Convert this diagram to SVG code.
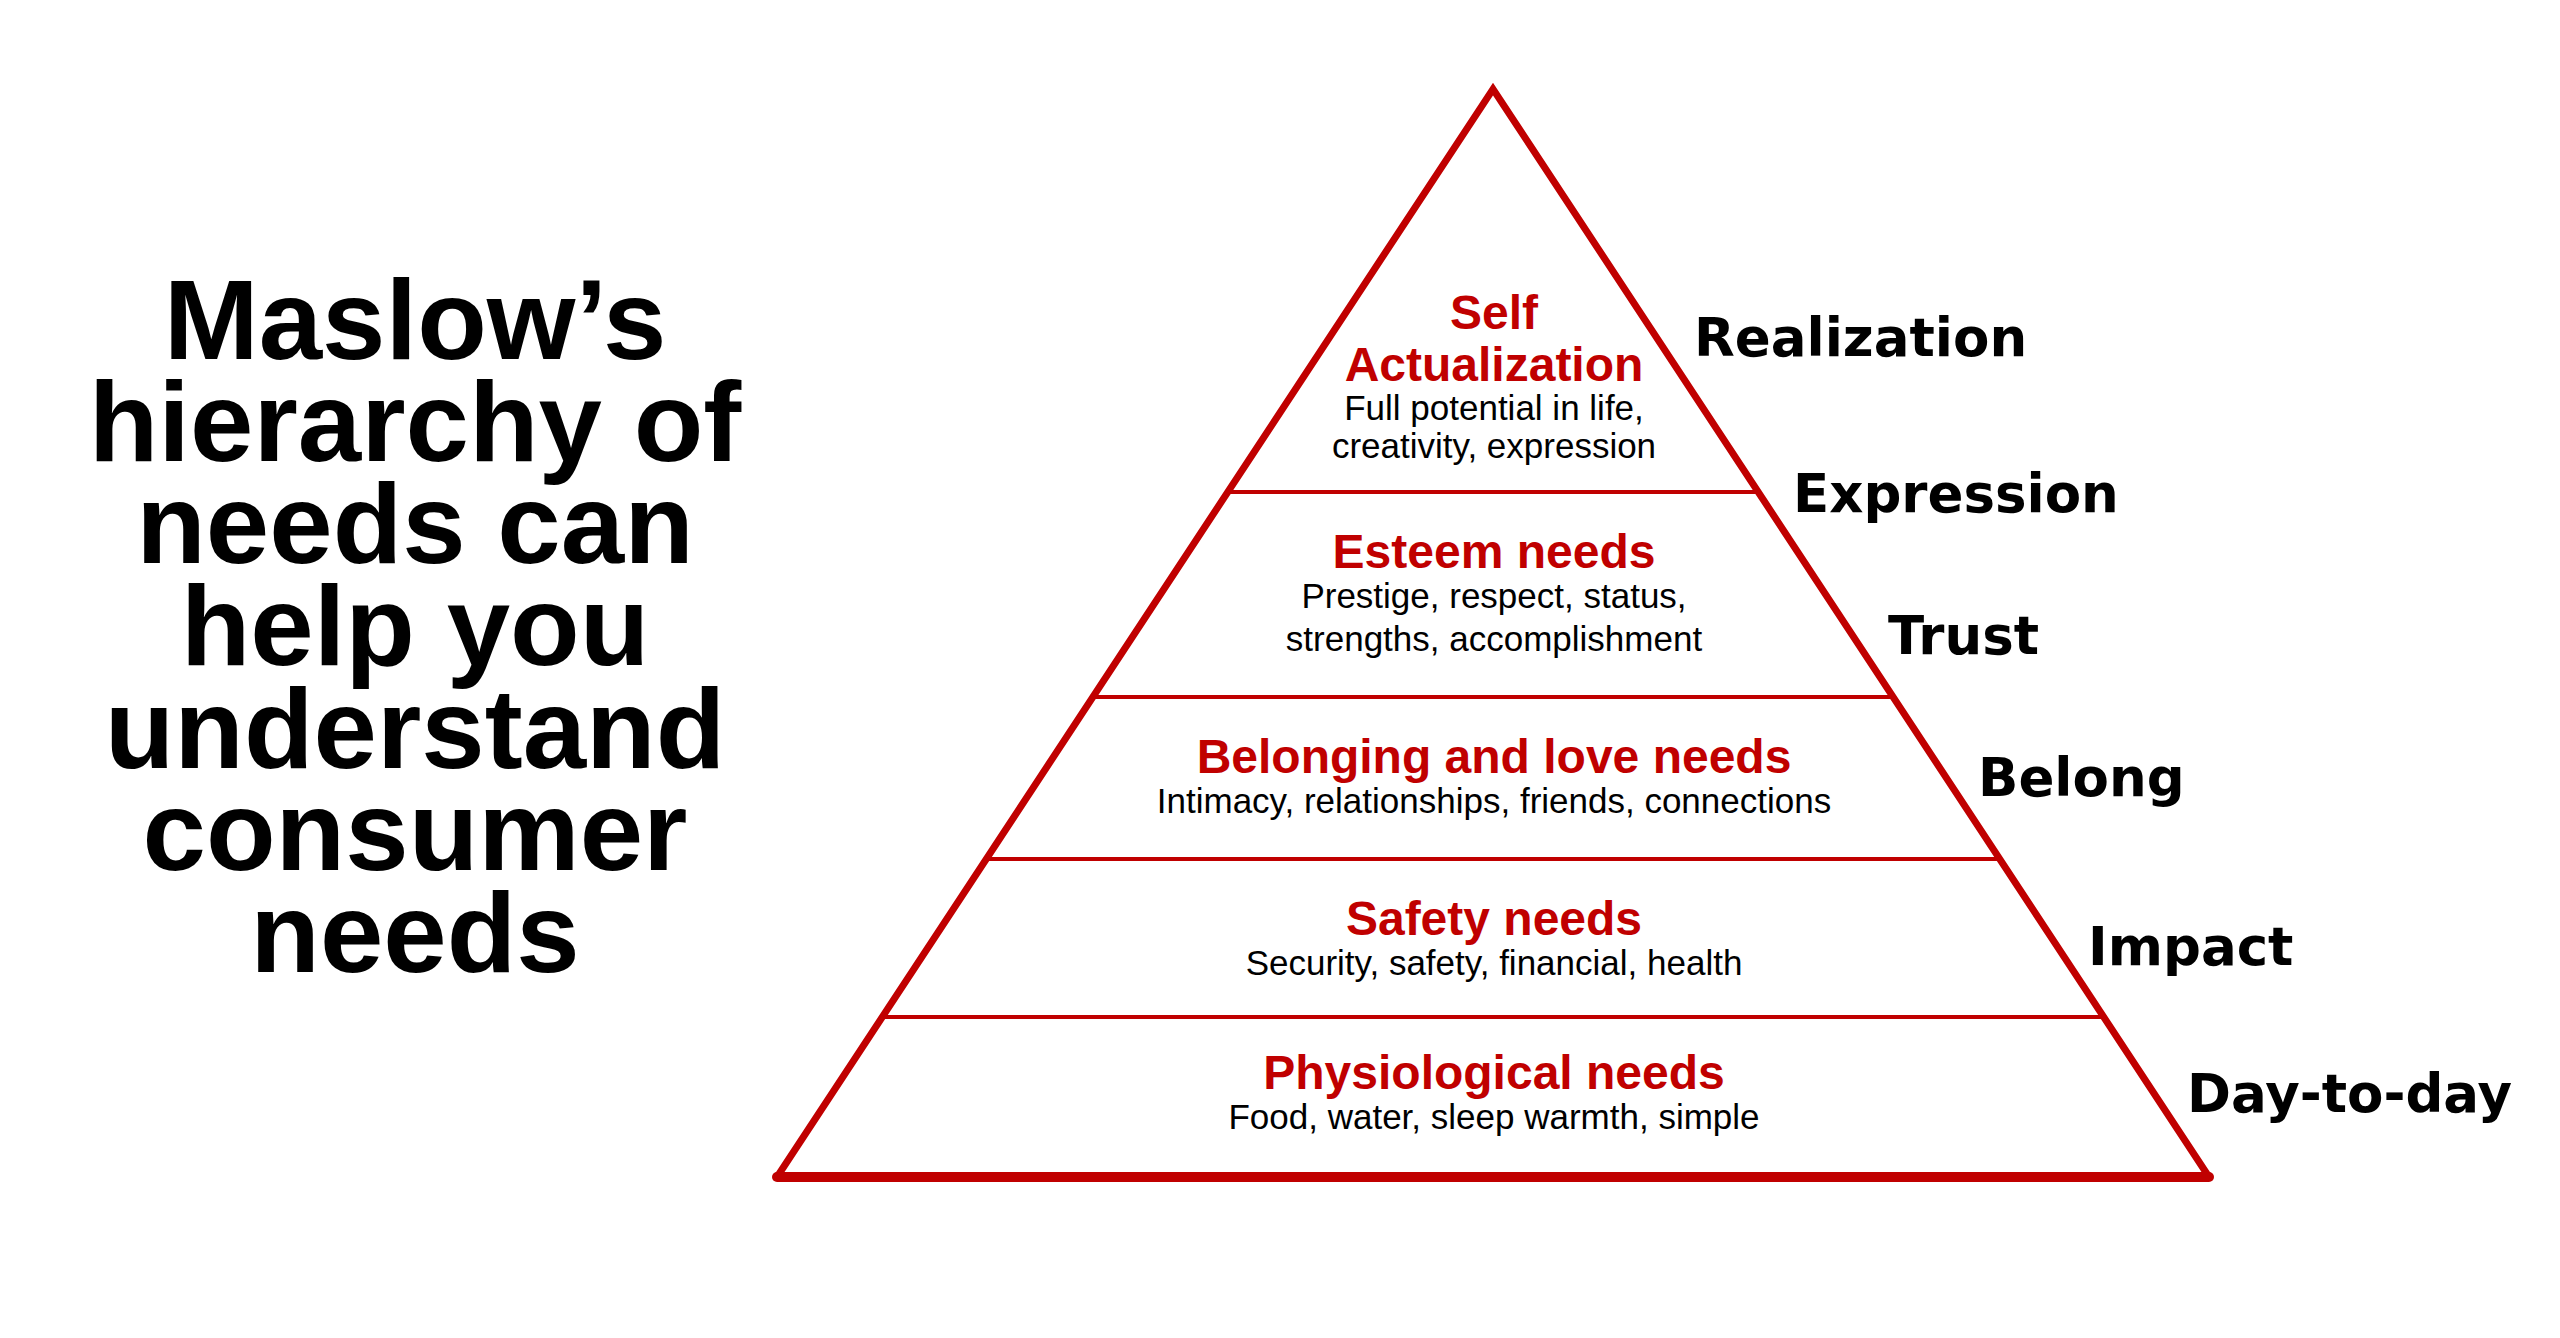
<svg xmlns="http://www.w3.org/2000/svg" width="2560" height="1338" viewBox="0 0 2560 1338">
  <style>
    .edge { fill: none; stroke: #C00000; stroke-width: 7; stroke-linejoin: miter; stroke-linecap: butt; }
    .base { fill: none; stroke: #C00000; stroke-width: 10; stroke-linecap: round; }
    .divider { stroke: #C00000; stroke-width: 4; }
    .head { font-family: "Liberation Sans", Arial, sans-serif; font-weight: bold; font-size: 48px; fill: #C00000; text-anchor: middle; }
    .sub { font-family: "Liberation Sans", Arial, sans-serif; font-size: 35px; fill: #000000; text-anchor: middle; }
    .side { font-family: "DejaVu Sans", Verdana, sans-serif; font-weight: bold; font-size: 53px; fill: #000000; }
    .title { font-family: "Liberation Sans", Arial, sans-serif; font-weight: bold; font-size: 114px; fill: #000000; text-anchor: middle; }
  </style>
  <rect x="0" y="0" width="2560" height="1338" fill="#FFFFFF"/>

  <g id="title">
    <text class="title" x="415" y="359">Maslow’s</text>
    <text class="title" x="415" y="461">hierarchy of</text>
    <text class="title" x="415" y="563">needs can</text>
    <text class="title" x="415" y="665">help you</text>
    <text class="title" x="415" y="768">understand</text>
    <text class="title" x="415" y="870">consumer</text>
    <text class="title" x="415" y="972">needs</text>
  </g>

  <g id="pyramid">
    <polyline class="edge" points="777,1177 1493,89 2209,1177"/>
    <line class="base" x1="777" y1="1177" x2="2209" y2="1177"/>
  </g>

  <g id="connectors">
    <line class="divider" x1="1227" y1="492" x2="1759" y2="492"/>
    <line class="divider" x1="1092" y1="697" x2="1894" y2="697"/>
    <line class="divider" x1="986" y1="859" x2="2000" y2="859"/>
    <line class="divider" x1="882" y1="1017" x2="2104" y2="1017"/>
  </g>

  <g id="tier-self-actualization">
    <text class="head" x="1494" y="329">Self</text>
    <text class="head" x="1494" y="381">Actualization</text>
    <text class="sub" x="1494" y="420">Full potential in life,</text>
    <text class="sub" x="1494" y="458">creativity, expression</text>
  </g>

  <g id="tier-esteem">
    <text class="head" x="1494" y="568">Esteem needs</text>
    <text class="sub" x="1494" y="608">Prestige, respect, status,</text>
    <text class="sub" x="1494" y="651">strengths, accomplishment</text>
  </g>

  <g id="tier-belonging">
    <text class="head" x="1494" y="773">Belonging and love needs</text>
    <text class="sub" x="1494" y="813">Intimacy, relationships, friends, connections</text>
  </g>

  <g id="tier-safety">
    <text class="head" x="1494" y="935">Safety needs</text>
    <text class="sub" x="1494" y="975">Security, safety, financial, health</text>
  </g>

  <g id="tier-physiological">
    <text class="head" x="1494" y="1089">Physiological needs</text>
    <text class="sub" x="1494" y="1129">Food, water, sleep warmth, simple</text>
  </g>

  <g id="side-labels">
    <text id="label-realization" class="side" x="1694" y="356">Realization</text>
    <text id="label-expression" class="side" x="1793" y="512">Expression</text>
    <text id="label-trust" class="side" x="1888" y="654">Trust</text>
    <text id="label-belong" class="side" x="1978" y="796">Belong</text>
    <text id="label-impact" class="side" x="2088" y="965">Impact</text>
    <text id="label-day-to-day" class="side" x="2187" y="1112">Day-to-day</text>
  </g>
</svg>
